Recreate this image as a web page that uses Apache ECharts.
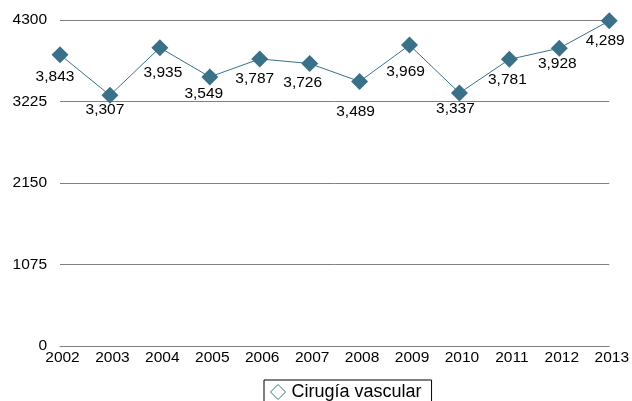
<!DOCTYPE html>
<html>
<head>
<meta charset="utf-8">
<style>
  html, body { margin: 0; padding: 0; background: #fff; }
  #chart { width: 632px; height: 401px; }
</style>
<script src="https://cdn.jsdelivr.net/npm/echarts@6/dist/echarts.min.js"></script>
</head>
<body>
<div id="chart"></div>
<script>
// Annual procedure counts
const years = ['2002', '2003', '2004', '2005', '2006', '2007', '2008', '2009', '2010', '2011', '2012', '2013'];
const cirugiaVascular = [3843, 3307, 3935, 3549, 3787, 3726, 3489, 3969, 3337, 3781, 3928, 4289];
const yTicks = [0, 1075, 2150, 3225, 4300];

// Label placement relative to each marker centre, in px
const labelShift = [[-5, 22], [-5, 14], [3, 25], [-6, 17], [-5, 20], [-7, 19], [-4, 30], [-4, 27], [-4, 16], [-2, 20], [-2, 16], [-4, 20]];

const color = '#3a7189';
const font = 'Liberation Sans, Arial, Helvetica, sans-serif';

const chart = echarts.init(document.getElementById('chart'));
chart.setOption({
  animation: false,
  grid: { left: 60, right: 19, top: 20, bottom: 55 },
  xAxis: {
    type: 'category',
    data: years,
    boundaryGap: false,
    axisLine: { show: true, lineStyle: { color: '#808080', width: 1 } },
    axisTick: { show: false },
    axisLabel: { color: '#000', fontSize: 15.5, fontFamily: font, margin: 4, align: 'center', padding: [0, 0, 0, 5] }
  },
  yAxis: {
    type: 'value',
    min: yTicks[0],
    max: yTicks[yTicks.length - 1],
    interval: yTicks[1] - yTicks[0],
    axisLine: { show: false },
    axisTick: { show: false },
    splitLine: { lineStyle: { color: '#808080', width: 1 } },
    axisLabel: { color: '#000', fontSize: 15.5, fontFamily: font, margin: 13, formatter: v => String(v) }
  },
  legend: {
    data: ['Cirugía vascular'],
    left: 264,
    top: 380,
    padding: [3, 10, 8, 6],
    borderColor: '#000',
    borderWidth: 1,
    borderRadius: 0,
    itemWidth: 15,
    itemHeight: 15,
    itemGap: 6,
    icon: 'diamond',
    itemStyle: { color: 'rgba(0,0,0,0)', borderColor: color, borderWidth: 1 },
    textStyle: { color: '#000', fontSize: 18, fontFamily: font, padding: [0, 0, 0, 1] }
  },
  series: [{
    name: 'Cirugía vascular',
    type: 'line',
    data: cirugiaVascular.map((v, i) => ({
      value: v,
      label: { offset: labelShift[i] }
    })),
    symbol: 'diamond',
    symbolSize: 17,
    itemStyle: { color: color },
    lineStyle: { color: color, width: 1 },
    label: {
      show: true,
      position: 'inside',
      color: '#000',
      fontSize: 15.5,
      fontFamily: font,
      formatter: p => p.value.toLocaleString('en-US')
    }
  }]
});
</script>
</body>
</html>
